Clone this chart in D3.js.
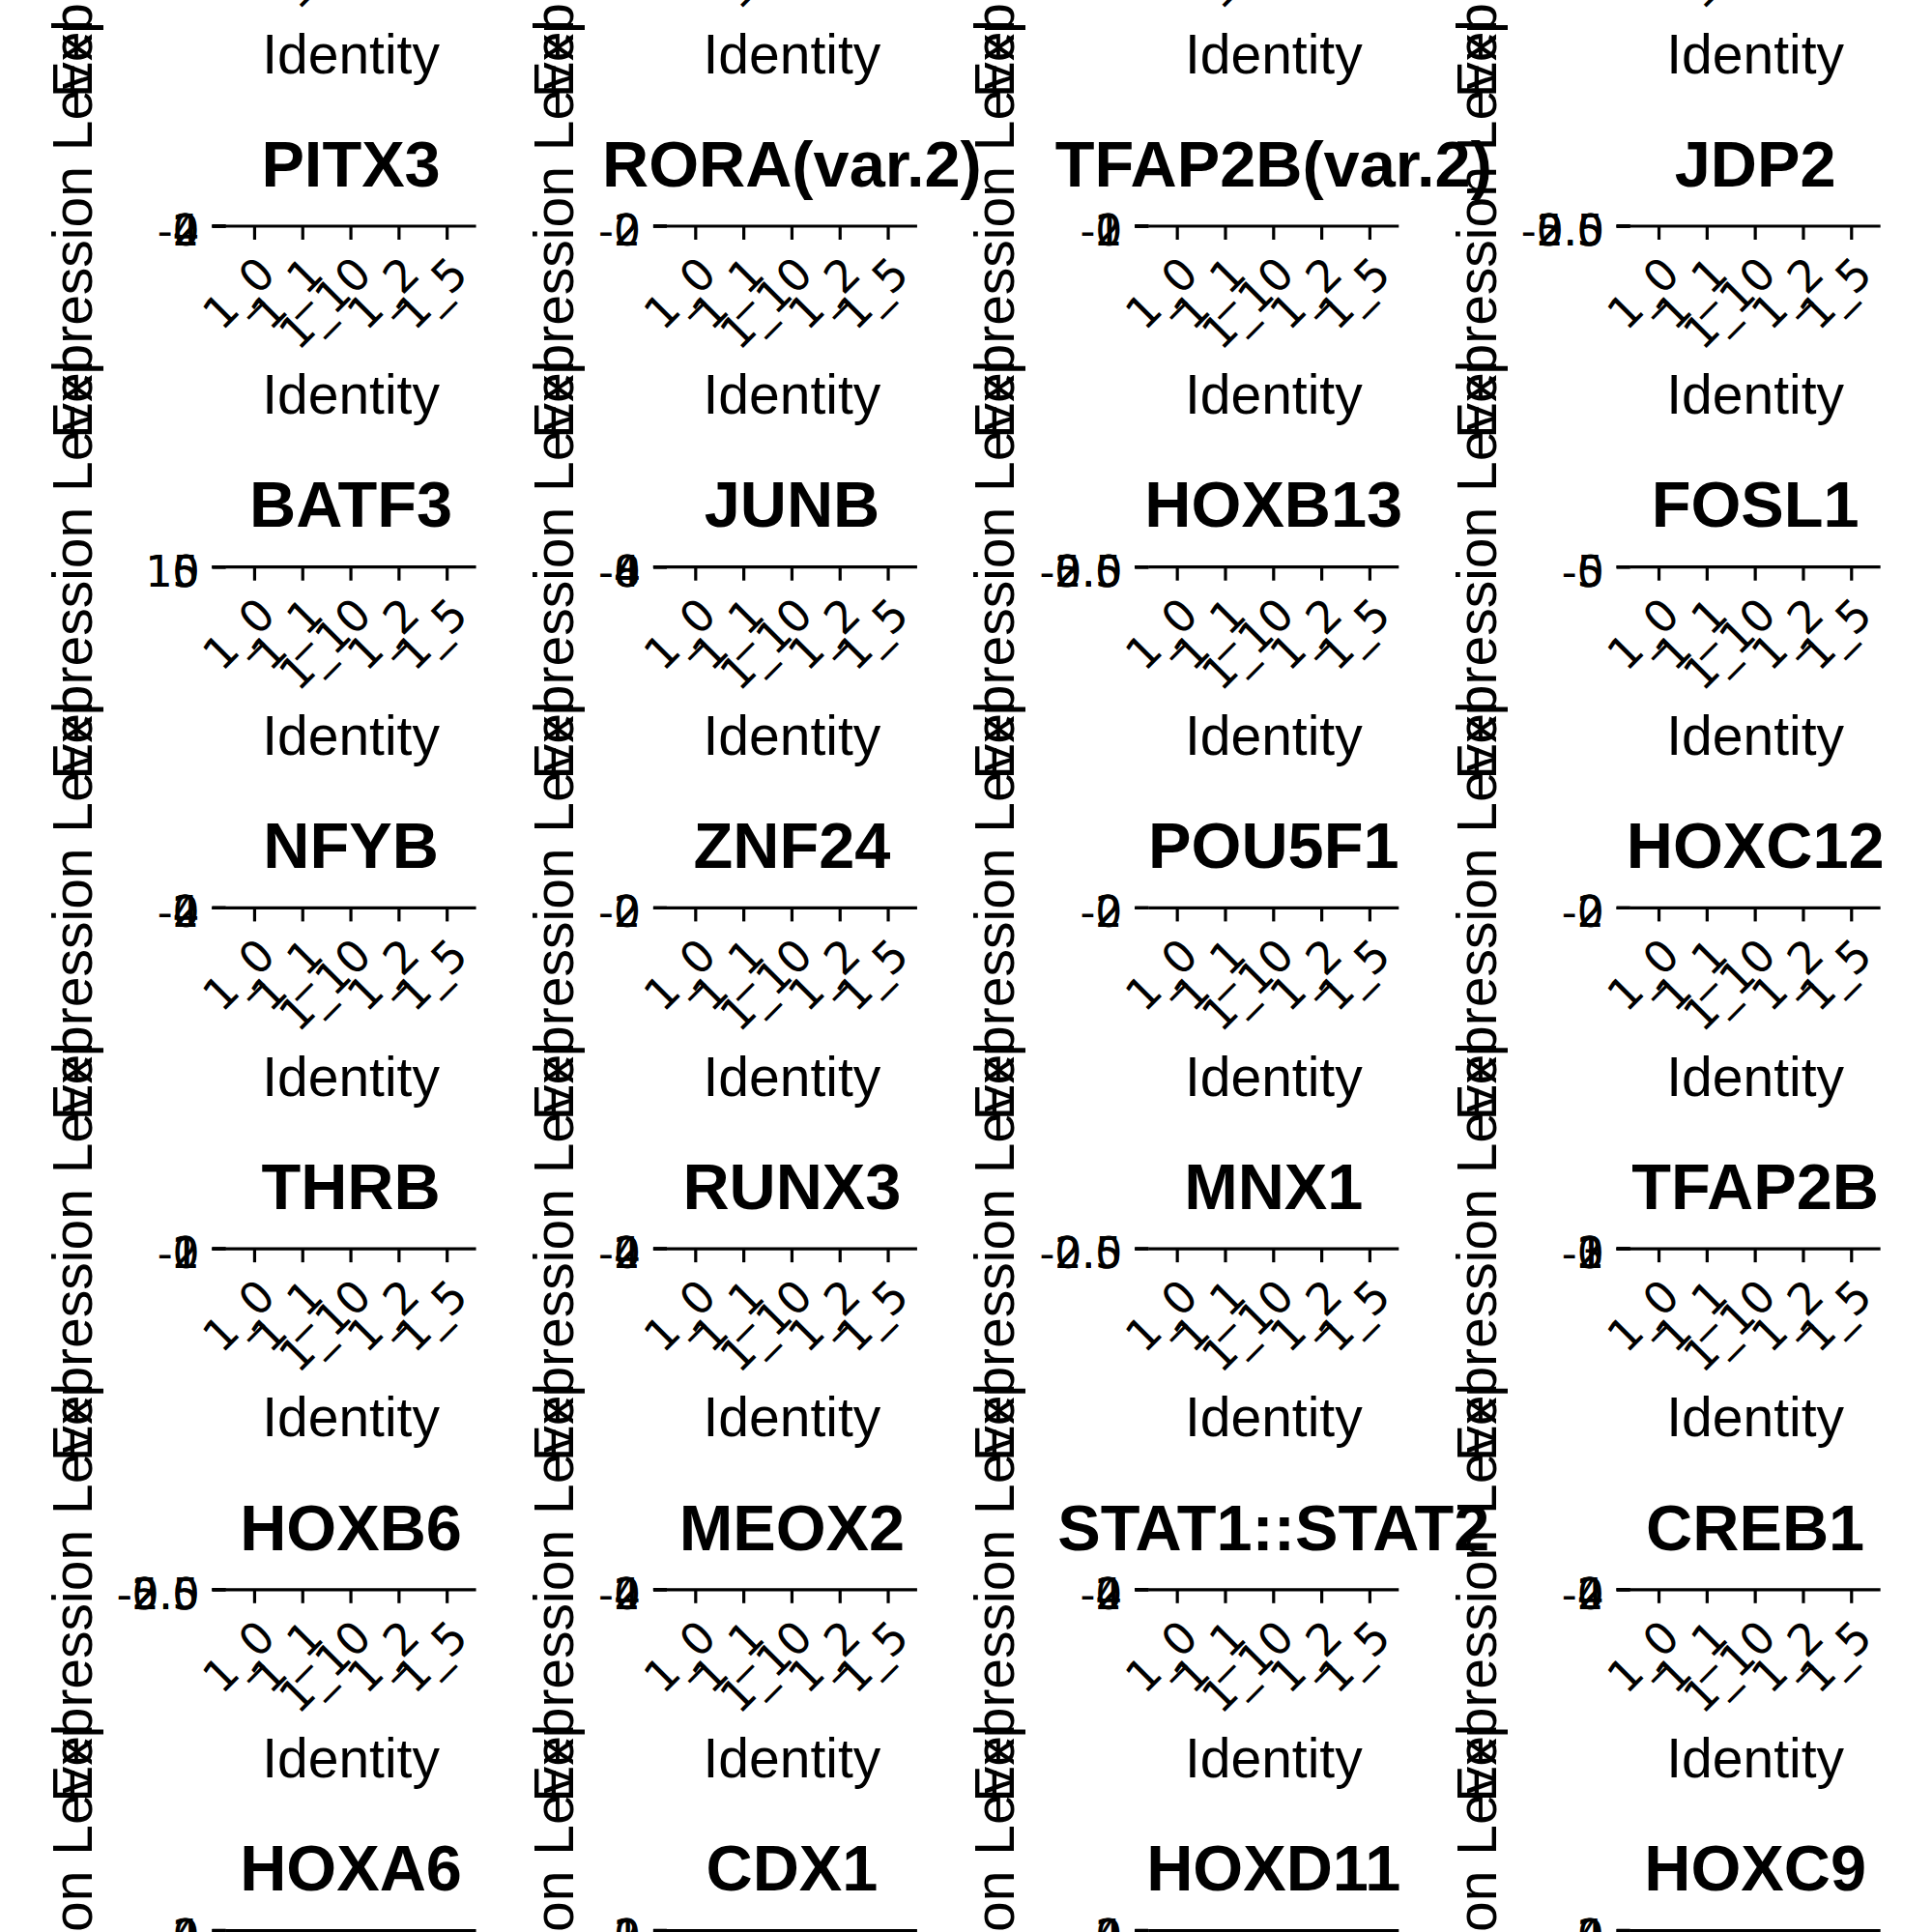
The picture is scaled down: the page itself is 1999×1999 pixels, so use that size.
<!DOCTYPE html>
<html><head><meta charset="utf-8">
<script src="https://cdn.jsdelivr.net/npm/d3@7"></script>
<style>html,body{margin:0;padding:0;background:#fff}</style>
</head><body>
<script>
// ---------- data ----------
const clusters = ["1_0", "1_1", "1_10", "1_2", "1_5"];
const genes = [
  ["PITX3", "RORA(var.2)", "TFAP2B(var.2)", "JDP2"],
  ["BATF3", "JUNB", "HOXB13", "FOSL1"],
  ["NFYB", "ZNF24", "POU5F1", "HOXC12"],
  ["THRB", "RUNX3", "MNX1", "TFAP2B"],
  ["HOXB6", "MEOX2", "STAT1::STAT2", "CREB1"],
  ["HOXA6", "CDX1", "HOXD11", "HOXC9"]
];
// y-axis tick labels of each panel (all collapse onto one line: panels have no height)
const hiddenRowTicks = [["-2", "0", "2"], ["-2", "0", "2"], ["-2.5", "0.0", "2.5"], ["-2.5", "0.0", "2.5"]];
const yTicks = [
  [["-2", "0", "2", "4"], ["-2", "0", "2"], ["-1", "0", "1", "2"], ["-2.5", "0.0", "2.5", "5.0"]],
  [["0", "5", "10", "15"], ["-4", "0", "4", "8"], ["-2.5", "0.0", "2.5", "5.0"], ["-5", "0", "5"]],
  [["-2", "0", "2", "4"], ["-2", "0", "2"], ["-2", "0", "2"], ["-2", "0", "2"]],
  [["-1", "0", "1", "2"], ["-2", "0", "2", "4"], ["-2.5", "0.0", "2.5"], ["-1", "0", "1", "2", "3"]],
  [["-5.0", "-2.5", "0.0", "2.5"], ["-2", "0", "2", "4"], ["-2", "0", "2", "4"], ["-2", "0", "2", "4"]],
  [["0", "2", "4"], ["0", "1", "2"], ["0", "2", "4"], ["0", "2", "4"]]
];
const xTitle = "Identity";
const yTitle = "Expression Level";

// ---------- style / layout ----------
const W = 1999, H = 1999;
const sans = "'Liberation Sans', Arial, sans-serif";
const tickFont = "'DejaVu Sans', Verdana, sans-serif";
const fs = { title: 66.7, axisTitle: 57, yTick: 44, xTick: 46 };
const panelW = 259, tickLen = 14, lw = 3.2;
const firstTitleX = 94.7, titleToLabels = 26, labelToPanel = 27, panelToNextTitle = 100.5;
const rowY = d3.scaleLinear().domain([0, 1]).range([234, 586.7]); // axis line y of each row

const svg = d3.select("body").append("svg")
  .attr("width", W).attr("height", H)
  .attr("viewBox", `0 0 ${W} ${H}`)
  .style("background", "#fff");
svg.append("rect").attr("width", W).attr("height", H).attr("fill", "#fff");

// rows: index -1 is the row cut off at the top
const rows = [{ r: -1, titles: [null, null, null, null], ticks: hiddenRowTicks }]
  .concat(genes.map((g, i) => ({ r: i, titles: g, ticks: yTicks[i] })));

// measure tick label widths
const meas = svg.append("text").attr("font-family", tickFont).attr("font-size", fs.yTick)
  .attr("x", -1000).attr("y", -1000);
function textW(s) { meas.text(s); return meas.node().getComputedTextLength(); }

// column layout from the widest tick label of each column
const columns = [];
let tX = firstTitleX;
for (let c = 0; c < 4; c++) {
  const labW = d3.max(rows, d => d3.max(d.ticks[c], s => textW(s)));
  const left = tX + titleToLabels + labW + labelToPanel;
  columns.push({ c, titleX: tX, left });
  tX = left + panelW + panelToNextTitle;
}
meas.remove();

rows.forEach(row => {
  const ay = rowY(row.r);
  columns.forEach(col => {
    const g = svg.append("g");
    const x = d3.scalePoint().domain(clusters).range([col.left, col.left + panelW]).padding(0.6);
    const vals = row.ticks[col.c].map(Number);
    const y = d3.scaleLinear().domain(d3.extent(vals)).range([ay, ay]); // zero-height panel

    // x axis line
    g.append("line").attr("x1", col.left).attr("x2", col.left + panelW)
      .attr("y1", ay).attr("y2", ay).attr("stroke", "#000").attr("stroke-width", lw);
    // x ticks
    g.selectAll(".xt").data(clusters).enter().append("line")
      .attr("x1", d => x(d)).attr("x2", d => x(d))
      .attr("y1", ay).attr("y2", ay + tickLen)
      .attr("stroke", "#000").attr("stroke-width", lw);
    // x tick labels, 45 degrees
    g.selectAll(".xl").data(clusters).enter().append("text")
      .attr("transform", d => `translate(${x(d)},${ay + 28}) rotate(-45)`)
      .attr("text-anchor", "end").attr("dy", "0.73em")
      .attr("font-family", tickFont).attr("font-size", fs.xTick).attr("fill", "#000")
      .text(d => d);
    // y ticks
    g.selectAll(".yt").data(row.ticks[col.c]).enter().append("line")
      .attr("x1", col.left - tickLen).attr("x2", col.left)
      .attr("y1", d => y(+d)).attr("y2", d => y(+d))
      .attr("stroke", "#000").attr("stroke-width", lw);
    // y tick labels (overlapping)
    g.selectAll(".yl").data(row.ticks[col.c]).enter().append("text")
      .attr("x", col.left - labelToPanel).attr("y", d => y(+d) + 20)
      .attr("text-anchor", "end")
      .attr("font-family", tickFont).attr("font-size", fs.yTick).attr("fill", "#000")
      .text(d => d);
    // x axis title
    g.append("text").attr("x", col.left + panelW / 2).attr("y", ay + 194.3)
      .attr("text-anchor", "middle").attr("font-family", sans).attr("font-size", fs.axisTitle)
      .attr("fill", "#000").text(xTitle);
    // y axis title
    g.append("text").attr("transform", `translate(${col.titleX},${ay + 3}) rotate(-90)`)
      .attr("text-anchor", "middle").attr("font-family", sans).attr("font-size", fs.axisTitle)
      .attr("fill", "#000").text(yTitle);
    // plot title
    if (row.titles[col.c]) {
      g.append("text").attr("x", col.left + panelW / 2).attr("y", ay - 41.3)
        .attr("text-anchor", "middle").attr("font-family", sans).attr("font-weight", "bold")
        .attr("font-size", fs.title).attr("fill", "#000").text(row.titles[col.c]);
    }
  });
});
</script>
</body></html>
